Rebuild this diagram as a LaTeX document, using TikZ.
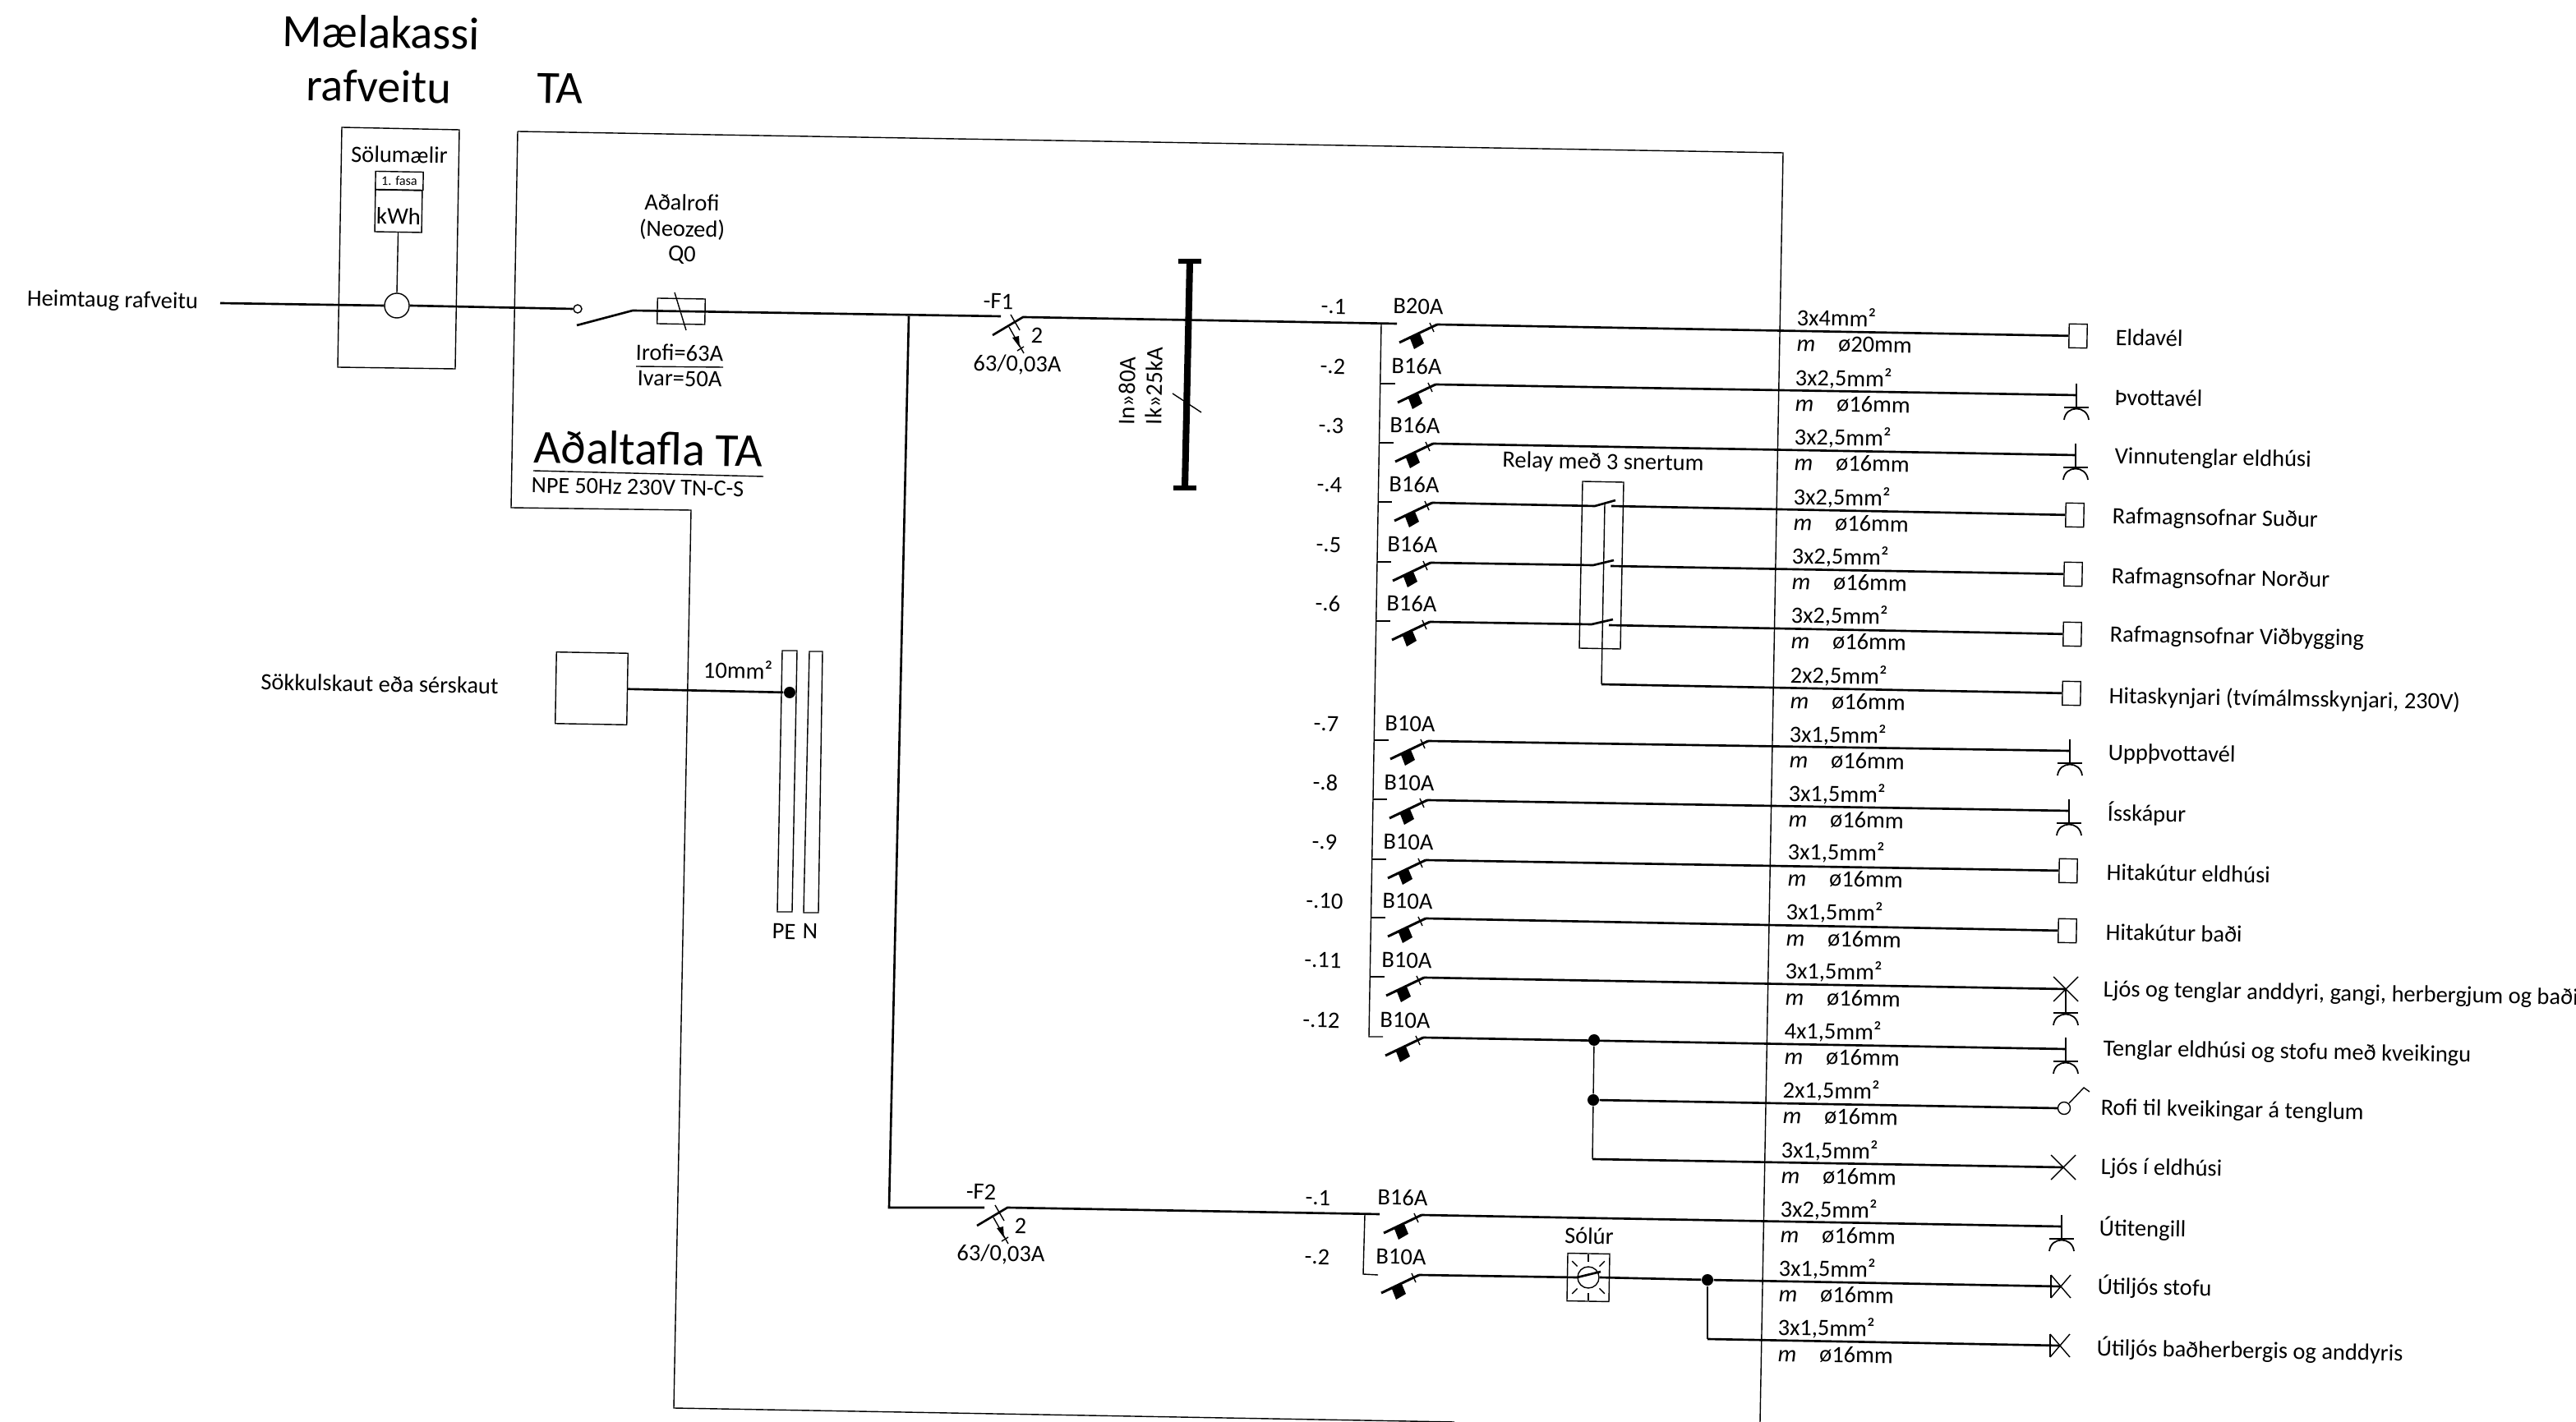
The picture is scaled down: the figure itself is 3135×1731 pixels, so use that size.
\documentclass[tikz,border=0pt]{standalone}
\usepackage{fontspec}
\setmainfont{Carlito}
\usetikzlibrary{positioning}
\tikzset{
  thinwire/.style={line width=0.4pt},
  cable/.style={line width=0.75pt},
  lbl/.style={inner sep=0pt, rotate=-1, font=\fontsize{8.1}{9}\selectfont, text height=5.8pt, text depth=1.2pt},
  txt/.style={lbl, anchor=west},
  bigtxt/.style={inner sep=0pt, rotate=-1, font=\fontsize{16}{18}\selectfont},
  load/.style={draw, thinwire, rectangle, inner sep=0pt, minimum width=0.22cm, minimum height=0.29cm, rotate=-1},
  dot/.style={circle, fill=black, inner sep=0pt, minimum size=0.14cm},
  contact/.style={circle, draw, thinwire, fill=white, inner sep=0pt},
  breaker/.pic={
    \draw[line width=0.85pt] (-46,22) -- (0,0);
    \draw[thinwire] (-9,-2) -- (-4,9);
    \fill (-33,17) -- (-21,11) -- (-16,23) -- (-28,30) -- cycle;
  },
  rcd/.pic={
    \draw[thinwire] (-15,-3) -- (-4,16);
    \draw[thinwire] (-17,12) -- (1,44);
    \draw[thinwire] (-7,41) -- (1,36);
    \fill (-4,37) -- (-13,25) -- (-5,23) -- cycle;
  },
  socket/.pic={
    \draw[thinwire] (0,-14) -- (0,15);
    \draw[line width=0.5pt] (-15,15) -- (15,15);
    \draw[line width=0.5pt] (-15,30) .. controls (-13,12) and (13,12) .. (15,30);
  },
  lamp/.pic={
    \draw[thinwire] (-15,-15) -- (15,15);
    \draw[thinwire] (15,-15) -- (-15,15);
  },
  outlamp/.pic={
    \draw[thinwire] (-12,-14) -- (12,14);
    \draw[thinwire] (12,-14) -- (-12,14);
    \draw[thinwire] (-12,-14) -- (-12,14);
  },
}
\begin{document}
\begin{tikzpicture}[x=0.01cm, y=-0.01cm]
  \useasboundingbox (0,0) rectangle (3135,1731);

  \node[bigtxt] (mk1) at (464,39) {Mælakassi};
  \node[bigtxt] (mk2) at (461,105) {rafveitu};
  \node[bigtxt] (ta) at (682,108) {TA};
  \node[bigtxt, font=\fontsize{16.4}{18}\selectfont] (aft) at (789,546) {Aðaltafla TA};
  \node[lbl, font=\fontsize{8}{9}\selectfont] (npe) at (776,594) {NPE 50Hz 230V TN-C-S};
  \coordinate (aftl) at (649,573);
  \coordinate (aftr) at (929,580);
  \draw[thinwire] (aftl) -- (aftr);

  \draw[thinwire] (416,155) -- (559,158) -- (554,449) -- (411,447) -- cycle;
  \draw[thinwire] (630,160) -- (2170,186) -- (2142,1731);
  \draw[thinwire] (630,160) -- (622,618) -- (841,621) -- (820,1714) -- (1770,1731);

  \node[lbl] (sol) at (486,190) {Sölumælir};
  \node[draw, thinwire, inner sep=0pt, minimum width=0.58cm, minimum height=0.22cm, rotate=-1, font=\fontsize{4.6}{5}\selectfont] (fasa) at (486,220) {1. fasa};
  \node[draw, thinwire, inner sep=0pt, minimum width=0.57cm, minimum height=0.51cm, rotate=-1] (kwh) at (485,257) {};
  \node[lbl, font=\fontsize{8.2}{9}\selectfont] (kwht) at (485,265) {kWh};
  \node[circle, draw, thinwire, inner sep=0pt, minimum size=0.3cm] (mtr) at (483,372) {};
  \draw[thinwire] (kwh.south) -- (mtr.north);

  \node[lbl] (heim) at (137,366) {Heimtaug rafveitu};
  \coordinate (in) at (268,369);
  \node[contact, minimum size=0.1cm] (q0c) at (703,376) {};
  \coordinate (q0b) at (702,396);
  \coordinate (q0t) at (770,378);
  \coordinate (f1l) at (1218,385);
  \coordinate (f1t) at (1245,386);
  \coordinate (f1b) at (1208,408);
  \coordinate (t1) at (1749,395);
  \draw[cable] (in) -- (mtr.west);
  \draw[cable] (mtr.east) -- (q0c.west);
  \draw[cable] (q0b) -- (q0t) -- (f1l);
  \draw[cable] (f1b) -- (f1t) -- (1700,394);

  \node[draw, thinwire, inner sep=0pt, minimum width=0.58cm, minimum height=0.31cm, rotate=-1] (fuse) at (829,379) {};
  \draw[thinwire] (821,356) -- (835,402);
  \node[lbl] (q1) at (830,248) {Aðalrofi};
  \node[lbl] (q2) at (830,280) {(Neozed)};
  \node[lbl] (q3) at (830,310) {Q0};
  \node[lbl] (irofi) at (827,431) {Irofi=63A};
  \draw[thinwire] (774,446) -- (880,447);
  \node[lbl] (ivar) at (827,462) {Ivar=50A};

  \node[lbl] (f1) at (1215,368) {-F1};
  \node[lbl] (f1n) at (1262,410) {2};
  \node[lbl] (f1a) at (1238,444) {63/0,03A};
  \pic at (f1t) {rcd};

  \coordinate (f2l) at (1198,1470);
  \coordinate (f2t) at (1226,1470);
  \coordinate (f2b) at (1189,1492);
  \draw[cable] (1106,385) -- (1082,1470) -- (f2l);
  \draw[cable] (f2b) -- (f2t) -- (1679,1478);
  \node[lbl] (f2) at (1194,1452) {-F2};
  \node[lbl] (f2n) at (1242,1494) {2};
  \node[lbl] (f2a) at (1218,1527) {63/0,03A};
  \pic at (f2t) {rcd};

  \draw[line width=2.3pt] (1448,318) -- (1442,594);
  \draw[line width=1.5pt] (1434,318) -- (1462,318);
  \draw[line width=1.5pt] (1428,594) -- (1456,594);
  \draw[thinwire] (1427,479) -- (1462,502);
  \node[lbl, rotate=90, font=\fontsize{8.2}{9}\selectfont] (in80) at (1373,476) {In»80A};
  \node[lbl, rotate=90, font=\fontsize{8.2}{9}\selectfont] (ik25) at (1406,470) {Ik»25kA};

  \draw[thinwire] (1681,394) -- (1666,1262) -- (1683,1262);
  \draw[thinwire] (1679,467) -- (1698,467);
  \draw[thinwire] (1678,539) -- (1696,539);
  \draw[thinwire] (1677,611) -- (1694,611);
  \draw[thinwire] (1676,684) -- (1693,684);
  \draw[thinwire] (1675,756) -- (1692,756);
  \draw[thinwire] (1672,901) -- (1690,901);
  \draw[thinwire] (1671,973) -- (1688,973);
  \draw[thinwire] (1670,1046) -- (1687,1046);
  \draw[thinwire] (1669,1117) -- (1686,1117);
  \draw[thinwire] (1667,1189) -- (1685,1189);
  \draw[thinwire] (1661,1478) -- (1659,1551) -- (1677,1552);

  \coordinate (t2) at (1747,468);
  \coordinate (t3) at (1744,540);
  \coordinate (t4) at (1743,612);
  \coordinate (t5) at (1741,685);
  \coordinate (t6) at (1740,757);
  \coordinate (t7) at (1738,902);
  \coordinate (t8) at (1737,974);
  \coordinate (t9) at (1735,1047);
  \coordinate (t10) at (1735,1118);
  \coordinate (t11) at (1733,1190);
  \coordinate (t12) at (1732,1263);
  \coordinate (t13) at (1730,1479);
  \coordinate (t14) at (1727,1552);
  \foreach \t in {t1,t2,t3,t4,t5,t6,t7,t8,t9,t10,t11,t12,t13,t14}
    \pic at (\t) {breaker};

  \node[lbl] (n1) at (1623,374) {-.1};
  \node[lbl] (n2) at (1622,447) {-.2};
  \node[lbl] (n3) at (1620,519) {-.3};
  \node[lbl] (n4) at (1618,591) {-.4};
  \node[lbl] (n5) at (1617,664) {-.5};
  \node[lbl] (n6) at (1616,736) {-.6};
  \node[lbl] (n7) at (1614,882) {-.7};
  \node[lbl] (n8) at (1613,954) {-.8};
  \node[lbl] (n9) at (1612,1026) {-.9};
  \node[lbl] (n10) at (1612,1098) {-.10};
  \node[lbl] (n11) at (1610,1170) {-.11};
  \node[lbl] (n12) at (1608,1243) {-.12};
  \node[lbl] (n13) at (1604,1459) {-.1};
  \node[lbl] (n14) at (1603,1531) {-.2};

  \node[lbl] (b1) at (1726,374) {B20A};
  \node[lbl] (b2) at (1724,447) {B16A};
  \node[lbl] (b3) at (1722,519) {B16A};
  \node[lbl] (b4) at (1721,591) {B16A};
  \node[lbl] (b5) at (1719,664) {B16A};
  \node[lbl] (b6) at (1718,736) {B16A};
  \node[lbl] (b7) at (1716,882) {B10A};
  \node[lbl] (b8) at (1715,954) {B10A};
  \node[lbl] (b9) at (1714,1026) {B10A};
  \node[lbl] (b10) at (1713,1098) {B10A};
  \node[lbl] (b11) at (1712,1170) {B10A};
  \node[lbl] (b12) at (1710,1243) {B10A};
  \node[lbl] (b13) at (1707,1459) {B16A};
  \node[lbl] (b14) at (1705,1531) {B10A};

  \node[load] (l1) at (2529,409) {};
  \node[load] (l4) at (2525,627) {};
  \node[load] (l5) at (2523,699) {};
  \node[load] (l6) at (2522,772) {};
  \node[load] (l15) at (2521,844) {};
  \node[load] (l9) at (2517,1060) {};
  \node[load] (l10) at (2516,1133) {};

  \coordinate (e2) at (2527,481);
  \coordinate (e3) at (2526,554);
  \coordinate (e7) at (2519,914);
  \coordinate (e8) at (2518,987);
  \coordinate (e11) at (2514,1204);
  \coordinate (e12) at (2514,1277);
  \coordinate (e13) at (2509,1493);
  \coordinate (e14) at (2508,1566);
  \coordinate (e16) at (2511,1421);
  \coordinate (e17) at (2507,1638);
  \pic at (e2) {socket};
  \pic at (e3) {socket};
  \pic at (e7) {socket};
  \pic at (e8) {socket};
  \pic at (e11) {lamp};
  \pic at (2514,1218) {socket};
  \pic at (e12) {socket};
  \pic at (e13) {socket};
  \pic at (e16) {lamp};
  \pic at (e14) {outlamp};
  \pic at (e17) {outlamp};

  \draw[cable] (t1) -- (l1.west);
  \draw[cable] (t2) -- (e2);
  \draw[cable] (t3) -- (e3);
  \draw[cable] (t7) -- (e7);
  \draw[cable] (t8) -- (e8);
  \draw[cable] (t9) -- (l9.west);
  \draw[cable] (t10) -- (l10.west);
  \draw[cable] (t11) -- (e11);
  \draw[cable] (t12) -- (e12);
  \draw[cable] (t13) -- (e13);

  \draw[thinwire] (1926,586) -- (1976,587) -- (1972,790) -- (1922,789) -- cycle;
  \node[lbl] (relay) at (1951,563) {Relay með 3 snertum};
  \coordinate (ra1) at (1941,616);
  \coordinate (rb1) at (1966,609);
  \coordinate (rc1) at (1961,616);
  \coordinate (ra2) at (1939,688);
  \coordinate (rb2) at (1964,682);
  \coordinate (rc2) at (1960,689);
  \coordinate (ra3) at (1937,760);
  \coordinate (rb3) at (1963,754);
  \coordinate (rc3) at (1958,761);
  \coordinate (rd) at (1949,833);
  \draw[cable] (t4) -- (ra1) -- (rb1);
  \draw[cable] (t5) -- (ra2) -- (rb2);
  \draw[cable] (t6) -- (ra3) -- (rb3);
  \draw[cable] (rc1) -- (l4.west);
  \draw[cable] (rc2) -- (l5.west);
  \draw[cable] (rc3) -- (l6.west);
  \draw[thinwire] (1953,613) -- (rd);
  \draw[cable] (rd) -- (l15.west);

  \node[dot] (d1) at (1940,1266) {};
  \node[dot] (d2) at (1939,1339) {};
  \coordinate (d3) at (1938,1411);
  \node[contact, minimum size=0.15cm] (rofi) at (2512,1349) {};
  \draw[thinwire] (d1) -- (d2) -- (d3);
  \draw[cable] (d2) -- (rofi.west);
  \draw[cable] (d3) -- (e16);
  \draw[thinwire] (2518,1343) -- (2536,1324) -- (2543,1329);

  \node[draw, thinwire, inner sep=0pt, minimum width=0.51cm, minimum height=0.58cm, rotate=-1] (solbox) at (1933,1555) {};
  \node[circle, draw, thinwire, inner sep=0pt, minimum size=0.26cm] (solc) at (1933,1555) {};
  \foreach \a in {0,45,...,315}
    \draw[thinwire] (1933,1555) ++(\a:19) -- ++(\a:9);
  \node[lbl] (solur) at (1934,1506) {Sólúr};
  \draw[cable] (t14) -- (solc.west);
  \draw[cable] (solc.west) -- (1948,1548);
  \node[dot] (d4) at (2078,1558) {};
  \coordinate (d5) at (2078,1630);
  \draw[cable] (solc.east) -- (d4) -- (e14);
  \draw[thinwire] (d4) -- (d5);
  \draw[cable] (d5) -- (e17);

  \node[draw, thinwire, inner sep=0pt, minimum size=0.87cm, rotate=-1] (skaut) at (720,838) {};
  \node[lbl] (sok) at (462,834) {Sökkulskaut eða sérskaut};
  \draw[thinwire] (952,792) -- (970,792) -- (964,1110) -- (946,1110) -- cycle;
  \draw[thinwire] (985,793) -- (1001,793) -- (996,1111) -- (978,1111) -- cycle;
  \node[dot] (pe) at (961,843) {};
  \draw[cable] (skaut.east) -- (pe);
  \node[lbl] (mm) at (898,818) {10mm²};
  \node[lbl] (pet) at (954,1135) {PE};
  \node[lbl] (nt) at (986,1135) {N};

  \node[txt] (c1) at (2186,388) {3x4mm²};
  \node[txt] (m1) at (2186,419) {\textit{m}\hspace{8pt}ø20mm};
  \node[txt] (c2) at (2184,461) {3x2,5mm²};
  \node[txt] (m2) at (2184,492) {\textit{m}\hspace{8pt}ø16mm};
  \node[txt] (c3) at (2183,533) {3x2,5mm²};
  \node[txt] (m3) at (2183,564) {\textit{m}\hspace{8pt}ø16mm};
  \node[txt] (c4) at (2182,606) {3x2,5mm²};
  \node[txt] (m4) at (2182,637) {\textit{m}\hspace{8pt}ø16mm};
  \node[txt] (c5) at (2180,678) {3x2,5mm²};
  \node[txt] (m5) at (2180,709) {\textit{m}\hspace{8pt}ø16mm};
  \node[txt] (c6) at (2179,750) {3x2,5mm²};
  \node[txt] (m6) at (2179,781) {\textit{m}\hspace{8pt}ø16mm};
  \node[txt] (c15) at (2178,823) {2x2,5mm²};
  \node[txt] (m15) at (2178,854) {\textit{m}\hspace{8pt}ø16mm};
  \node[txt] (c7) at (2177,895) {3x1,5mm²};
  \node[txt] (m7) at (2177,926) {\textit{m}\hspace{8pt}ø16mm};
  \node[txt] (c8) at (2176,967) {3x1,5mm²};
  \node[txt] (m8) at (2176,998) {\textit{m}\hspace{8pt}ø16mm};
  \node[txt] (c9) at (2175,1038) {3x1,5mm²};
  \node[txt] (m9) at (2175,1070) {\textit{m}\hspace{8pt}ø16mm};
  \node[txt] (c10) at (2173,1111) {3x1,5mm²};
  \node[txt] (m10) at (2173,1143) {\textit{m}\hspace{8pt}ø16mm};
  \node[txt] (c11) at (2172,1183) {3x1,5mm²};
  \node[txt] (m11) at (2172,1215) {\textit{m}\hspace{8pt}ø16mm};
  \node[txt] (c12) at (2171,1256) {4x1,5mm²};
  \node[txt] (m12) at (2171,1287) {\textit{m}\hspace{8pt}ø16mm};
  \node[txt] (c16) at (2169,1328) {2x1,5mm²};
  \node[txt] (m16) at (2169,1359) {\textit{m}\hspace{8pt}ø16mm};
  \node[txt] (c17) at (2167,1401) {3x1,5mm²};
  \node[txt] (m17) at (2167,1432) {\textit{m}\hspace{8pt}ø16mm};
  \node[txt] (c13) at (2166,1473) {3x2,5mm²};
  \node[txt] (m13) at (2166,1504) {\textit{m}\hspace{8pt}ø16mm};
  \node[txt] (c14) at (2164,1545) {3x1,5mm²};
  \node[txt] (m14) at (2164,1576) {\textit{m}\hspace{8pt}ø16mm};
  \node[txt] (c18) at (2163,1617) {3x1,5mm²};
  \node[txt] (m18) at (2163,1649) {\textit{m}\hspace{8pt}ø16mm};

  \node[txt] (a1) at (2574,412) {Eldavél};
  \node[txt] (a2) at (2573,485) {Þvottavél};
  \node[txt] (a3) at (2573,556) {Vinnutenglar eldhúsi};
  \node[txt] (a4) at (2570,629) {Rafmagnsofnar Suður};
  \node[txt] (a5) at (2569,702) {Rafmagnsofnar Norður};
  \node[txt] (a6) at (2567,773) {Rafmagnsofnar Viðbygging};
  \node[txt] (a15) at (2566,848) {Hitaskynjari (tvímálmsskynjari, 230V)};
  \node[txt] (a7) at (2565,917) {Uppþvottavél};
  \node[txt] (a8) at (2564,991) {Ísskápur};
  \node[txt] (a9) at (2563,1063) {Hitakútur eldhúsi};
  \node[txt] (a10) at (2562,1136) {Hitakútur baði};
  \node[txt] (a11) at (2559,1205) {Ljós og tenglar anddyri, gangi, herbergjum og baði};
  \node[txt] (a12) at (2559,1277) {Tenglar eldhúsi og stofu með kveikingu};
  \node[txt] (a16) at (2556,1349) {Rofi til kveikingar á tenglum};
  \node[txt] (a17) at (2556,1421) {Ljós í eldhúsi};
  \node[txt] (a13) at (2554,1496) {Útitengill};
  \node[txt] (a14) at (2552,1567) {Útiljós stofu};
  \node[txt] (a18) at (2551,1642) {Útiljós baðherbergis og anddyris};
\end{tikzpicture}
\end{document}
